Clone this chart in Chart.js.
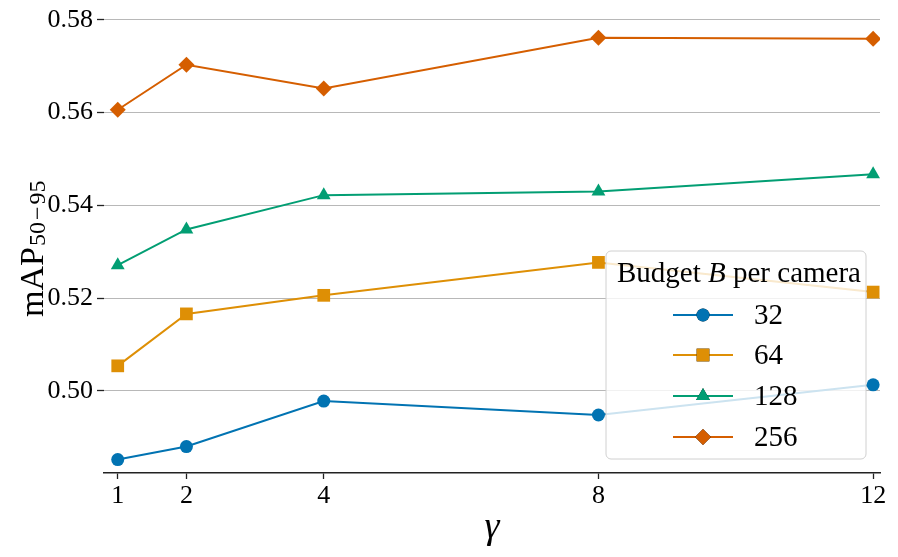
<!DOCTYPE html>
<html>
<head>
<meta charset="utf-8">
<script src="https://cdn.jsdelivr.net/npm/chart.js@4.4.1/dist/chart.umd.min.js"></script>
<style>
  html, body { margin: 0; padding: 0; background: #fff; }
  #wrap { width: 898px; height: 557px; }
</style>
</head>
<body>
<div id="wrap"><canvas id="chart" width="898" height="557"></canvas></div>
<script>
// data
const gammas = [1, 2, 4, 8, 12];
const budgets = ["32", "64", "128", "256"];
const map32 = [0.4852, 0.4880, 0.4978, 0.4948, 0.5013];
const map64 = [0.5054, 0.5166, 0.5206, 0.5277, 0.5213];
const map128 = [0.5271, 0.5348, 0.5422, 0.5430, 0.5467];
const map256 = [0.5606, 0.5703, 0.5652, 0.5761, 0.5759];
const yTicks = [0.50, 0.52, 0.54, 0.56, 0.58];

const colors = ["#0173b2", "#de8f05", "#029e73", "#d55e00"];
const markers = ["circle", "rect", "triangle", "rectRot"];
const radii = [6.5, 9, 8, 8];
const series = [map32, map64, map128, map256];
const serif = "'Liberation Serif', 'DejaVu Serif', serif";

const datasets = series.map((vals, i) => ({
  label: budgets[i],
  data: gammas.map((g, j) => ({ x: g, y: vals[j] })),
  borderColor: colors[i],
  backgroundColor: colors[i],
  borderWidth: 2,
  pointStyle: markers[i],
  pointRadius: radii[i],
  pointHoverRadius: radii[i],
  pointBorderWidth: 0,
  tension: 0
}));

// legend box inside the plot, plus axis titles with subscript
const extras = {
  id: "extras",
  afterDraw(chart) {
    const ctx = chart.ctx;
    const area = chart.chartArea;

    // y title: mAP_{50-95}
    ctx.save();
    ctx.translate(43, 247);
    ctx.rotate(-Math.PI / 2);
    ctx.fillStyle = "#000";
    ctx.textBaseline = "alphabetic";
    ctx.textAlign = "right";
    ctx.font = "34px " + serif;
    ctx.fillText("mAP", 0, 0);
    ctx.textAlign = "left";
    ctx.font = "24px " + serif;
    let sx = 1;
    ctx.fillText("50", sx, 2);
    sx += ctx.measureText("50").width + 2;
    ctx.fillText("\u2212", sx, 2);
    sx += ctx.measureText("\u2212").width + 2;
    ctx.fillText("95", sx, 2);
    ctx.restore();

    // x title
    ctx.save();
    ctx.fillStyle = "#000";
    ctx.font = "italic 38px " + serif;
    ctx.textAlign = "center";
    ctx.textBaseline = "middle";
    ctx.fillText("\u03b3", (area.left + area.right) / 2, 528);
    ctx.restore();

    // legend
    const bx = 606, by = 251, bw = 260, bh = 208;
    ctx.save();
    ctx.beginPath();
    ctx.roundRect(bx, by, bw, bh, 5);
    ctx.fillStyle = "rgba(255,255,255,0.8)";
    ctx.fill();
    ctx.strokeStyle = "#d0d0d0";
    ctx.lineWidth = 1;
    ctx.stroke();

    ctx.fillStyle = "#000";
    ctx.textBaseline = "middle";
    const fs = 29;
    ctx.font = fs + "px " + serif;
    const t1 = "Budget ", t2 = "B", t3 = " per camera";
    const w1 = ctx.measureText(t1).width;
    const w3 = ctx.measureText(t3).width;
    ctx.font = "italic " + fs + "px " + serif;
    const w2 = ctx.measureText(t2).width;
    let tx = bx + bw / 2 - (w1 + w2 + w3) / 2 + 3;
    const ty = 274;
    ctx.font = fs + "px " + serif;
    ctx.fillText(t1, tx, ty);
    ctx.font = "italic " + fs + "px " + serif;
    ctx.fillText(t2, tx + w1, ty);
    ctx.font = fs + "px " + serif;
    ctx.fillText(t3, tx + w1 + w2, ty);

    const rows = [315, 355, 396, 437];
    chart.data.datasets.forEach((ds, i) => {
      const y = rows[i];
      ctx.strokeStyle = ds.borderColor;
      ctx.lineWidth = 2;
      ctx.beginPath();
      ctx.moveTo(673, y);
      ctx.lineTo(733, y);
      ctx.stroke();
      Chart.helpers.drawPoint(ctx, {
        pointStyle: ds.pointStyle,
        radius: ds.pointRadius,
        rotation: 0,
        borderWidth: 0
      }, 703, y);
      ctx.fillStyle = ds.backgroundColor;
      ctx.fill();
      ctx.fillStyle = "#000";
      ctx.font = fs + "px " + serif;
      ctx.textAlign = "left";
      ctx.fillText(ds.label, 754, y + 1);
    });
    ctx.restore();
  }
};

new Chart(document.getElementById("chart"), {
  type: "line",
  data: { datasets },
  plugins: [extras],
  options: {
    responsive: false,
    devicePixelRatio: 1,
    animation: false,
    layout: { padding: { top: 8, right: 18, left: 0, bottom: 0 } },
    plugins: {
      legend: { display: false },
      tooltip: { enabled: false }
    },
    scales: {
      x: {
        type: "linear",
        min: 0.8,
        max: 12.1,
        afterBuildTicks: s => { s.ticks = gammas.map(v => ({ value: v })); },
        afterFit: s => { s.height = 84; },
        grid: { drawOnChartArea: false, drawTicks: true, tickLength: 6, tickColor: "#222", tickWidth: 1.3 },
        border: { display: true, color: "#222", width: 1.5 },
        ticks: { color: "#000", font: { family: serif, size: 26, lineHeight: 1 }, padding: 4, maxRotation: 0 }
      },
      y: {
        type: "linear",
        min: 0.4823,
        max: 0.5806,
        afterBuildTicks: s => { s.ticks = yTicks.map(v => ({ value: v })); },
        afterFit: s => { s.width = 104; },
        grid: { color: "#b8b8b8", lineWidth: 1, drawTicks: true, tickLength: 7, tickColor: "#222", tickWidth: 1.3 },
        border: { display: false },
        ticks: {
          color: "#000",
          font: { family: serif, size: 26, lineHeight: 1 },
          padding: 4,
          callback: v => v.toFixed(2)
        }
      }
    }
  }
});
</script>
</body>
</html>
